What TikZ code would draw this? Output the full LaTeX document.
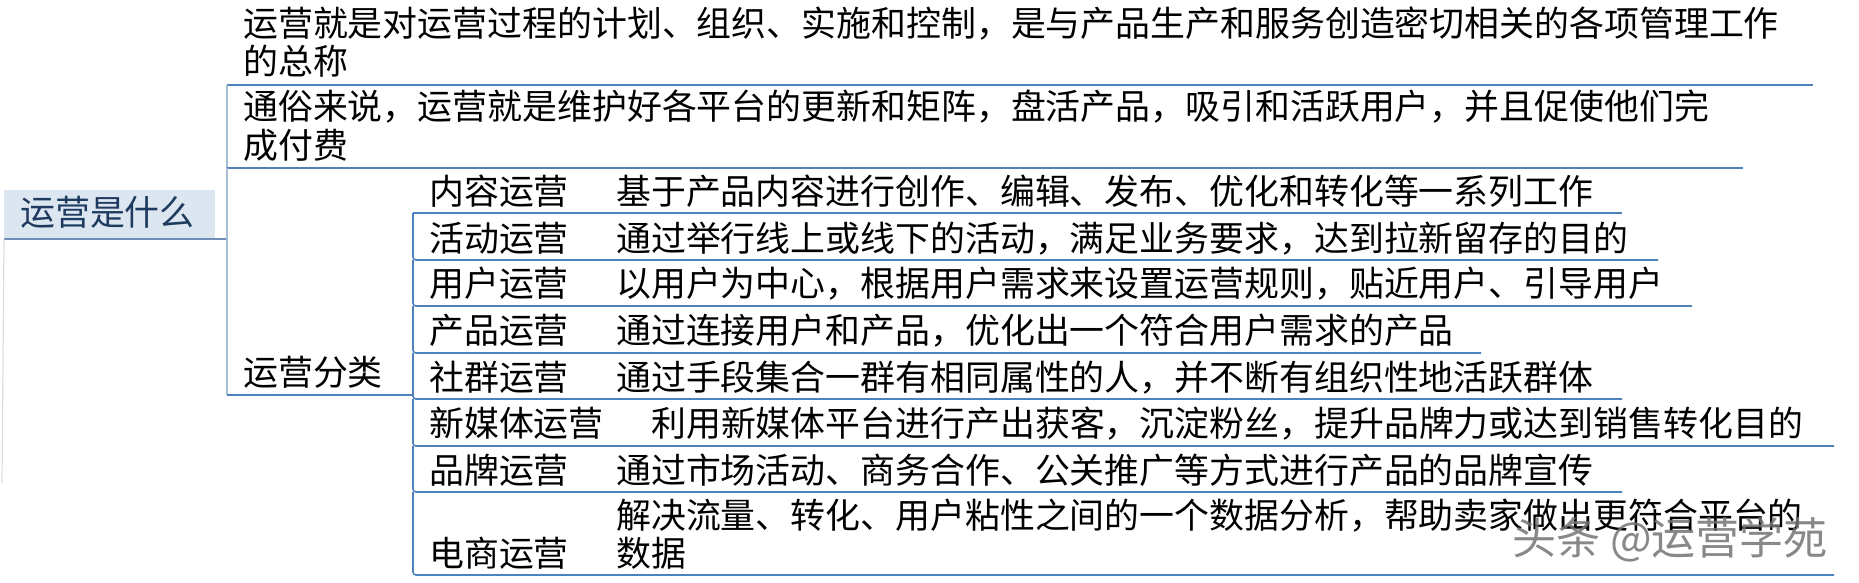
\documentclass[tikz,border=0pt]{standalone}
\usepackage{fontspec}
\setmainfont{Noto Sans CJK SC}
\definecolor{linkblue}{HTML}{4F81BD}
\definecolor{paleblue}{HTML}{A9BCD6}
\definecolor{rootfill}{HTML}{DCE6F1}
\definecolor{rootnavy}{HTML}{1F3A5F}
\definecolor{rootline}{HTML}{6F8FB7}
\definecolor{faintline}{HTML}{D9DEE6}
\begin{document}
\begin{tikzpicture}[x=1pt,y=-1pt,
  txt/.style={anchor=base west, inner sep=0pt, font=\fontsize{34.9}{38}\selectfont, text=black},
  ulline/.style={draw=linkblue, line width=1.6pt, rounded corners=3pt},
  lvlone/.style={draw=paleblue, line width=1.4pt, rounded corners=3pt},
  wmark/.style={inner sep=0pt, font=\fontsize{44}{48}\selectfont, text=black!55, opacity=0.85}]
\useasboundingbox (0,0) rectangle (1859,583);

% root
\fill[rootfill] (4,190) rectangle (215,239);
\node[txt, text=rootnavy] (root) at (20,225) {运营是什么};
\coordinate (rootL) at (4,239);
\coordinate (rootR) at (227,239);
\coordinate (rootF) at (2,483);
\draw[rootline, line width=1.4pt] (rootL) -- (rootR);
\draw[faintline, line width=1.2pt] (rootL) -- (rootF);

% level 1
\node[txt] (c1a) at (243,37) {运营就是对运营过程的计划、组织、实施和控制，是与产品生产和服务创造密切相关的各项管理工作};
\node[txt] (c1b) at (243,75) {的总称};
\node[txt] (c2a) at (243,120) {通俗来说，运营就是维护好各平台的更新和矩阵，盘活产品，吸引和活跃用户，并且促使他们完};
\node[txt] (c2b) at (243,158) {成付费};
\node[txt] (cat) at (243,385) {运营分类};

\coordinate (u1L) at (227,85);  \coordinate (u1R) at (1813,85);
\coordinate (u2L) at (227,168); \coordinate (u2R) at (1743,168);
\coordinate (u3L) at (227,395); \coordinate (u3R) at (413,395);
\draw[ulline] (u1L) -- (u1R);
\draw[lvlone] (u1L) -- (u2L);
\draw[ulline] (u2L) -- (u2R);
\draw[lvlone] (u2L) -- (u3L);
\draw[ulline] (u3L) -- (u3R);

% level 2 labels
\node[txt] (k1) at (429,204) {内容运营};
\node[txt] (k2) at (429,251) {活动运营};
\node[txt] (k3) at (429,296) {用户运营};
\node[txt] (k4) at (429,343) {产品运营};
\node[txt] (k5) at (429,390) {社群运营};
\node[txt] (k6) at (429,436) {新媒体运营};
\node[txt] (k7) at (429,483) {品牌运营};
\node[txt] (k8) at (429,566) {电商运营};

% descriptions
\node[txt] (d1) at (616,204) {基于产品内容进行创作、编辑、发布、优化和转化等一系列工作};
\node[txt] (d2) at (616,251) {通过举行线上或线下的活动，满足业务要求，达到拉新留存的目的};
\node[txt] (d3) at (616,296) {以用户为中心，根据用户需求来设置运营规则，贴近用户、引导用户};
\node[txt] (d4) at (616,343) {通过连接用户和产品，优化出一个符合用户需求的产品};
\node[txt] (d5) at (616,390) {通过手段集合一群有相同属性的人，并不断有组织性地活跃群体};
\node[txt] (d6) at (651,436) {利用新媒体平台进行产出获客，沉淀粉丝，提升品牌力或达到销售转化目的};
\node[txt] (d7) at (616,483) {通过市场活动、商务合作、公关推广等方式进行产品的品牌宣传};
\node[txt] (d8a) at (616,528) {解决流量、转化、用户粘性之间的一个数据分析，帮助卖家做出更符合平台的};
\node[txt] (d8b) at (616,566) {数据};

% level 2 underlines and left lines
\coordinate (v0) at (413,213);
\coordinate (v1) at (413,260);
\coordinate (v2) at (413,306);
\coordinate (v3) at (413,353);
\coordinate (v4) at (413,399);
\coordinate (v5) at (413,446);
\coordinate (v6) at (413,492);
\coordinate (v7) at (413,575);
\coordinate (e0) at (1622,213);
\coordinate (e1) at (1658,260);
\coordinate (e2) at (1692,306);
\coordinate (e3) at (1481,353);
\coordinate (e4) at (1622,399);
\coordinate (e5) at (1834,446);
\coordinate (e6) at (1622,492);
\coordinate (e7) at (1834,575);
\draw[ulline] (v0) -- (e0);
\draw[ulline] (v0) -- (v1) -- (e1);
\draw[ulline] (v1) -- (v2) -- (e2);
\draw[ulline] (v2) -- (v3) -- (e3);
\draw[ulline] (v3) -- (v4) -- (e4);
\draw[ulline] (v4) -- (v5) -- (e5);
\draw[ulline] (v5) -- (v6) -- (e6);
\draw[ulline] (v6) -- (v7) -- (e7);

% watermark
\node[wmark] (wm) at (1670,540) {头条 @运营学苑};
\end{tikzpicture}
\end{document}
